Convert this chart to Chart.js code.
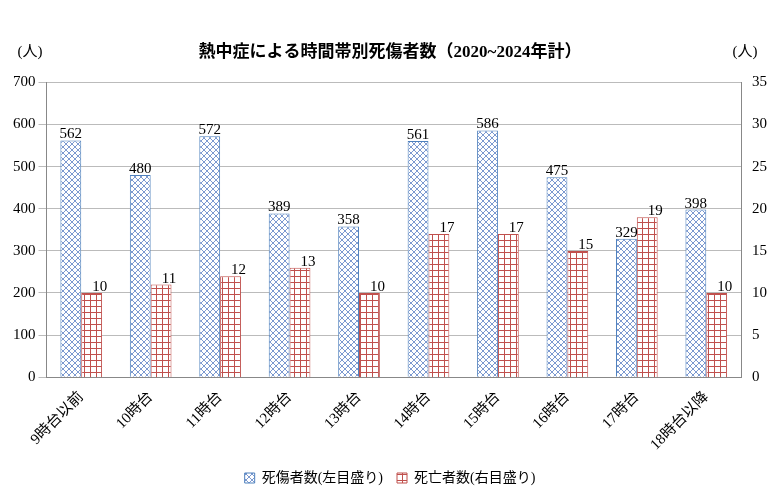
<!DOCTYPE html><html><head><meta charset="utf-8">
<script src="https://cdn.jsdelivr.net/npm/chart.js"></script>
<style>body{margin:0;background:#fff}</style></head><body>
<canvas id="c" width="780" height="495"></canvas>
<script>
const categories=["9時台以前","10時台","11時台","12時台","13時台","14時台","15時台","16時台","17時台","18時台以降"];
const casualties=[562,480,572,389,358,561,586,475,329,398];
const deaths=[10,11,12,13,10,17,17,15,19,10];
const F='"Liberation Serif","Noto Sans CJK JP",serif';
function pat(kind){const c=document.createElement('canvas');c.width=c.height=6;const x=c.getContext('2d');
 x.fillStyle='#fff';x.fillRect(0,0,6,6);
 if(kind==='d'){x.strokeStyle='#5b7fc4';x.lineWidth=0.8;x.beginPath();x.moveTo(0,0);x.lineTo(6,6);x.moveTo(6,0);x.lineTo(0,6);x.stroke();}
 else{x.strokeStyle='#c0504d';x.lineWidth=1;x.beginPath();x.moveTo(0,0.5);x.lineTo(6,0.5);x.moveTo(0.5,0);x.lineTo(0.5,6);x.stroke();}
 return x.createPattern(c,'repeat');}
const lbl={id:'lbl',afterDatasetsDraw(ch){const x=ch.ctx;x.save();x.font='15px '+F;x.fillStyle='#000';x.textAlign='center';
 ch.data.datasets.forEach((d,i)=>{ch.getDatasetMeta(i).data.forEach((b,j)=>{x.fillText(d.data[j],b.x+(i?8:0),b.y-6);});});
 x.fillText('(人)',30,52);x.fillText('(人)',745,52);x.restore();}};
new Chart(document.getElementById('c'),{type:'bar',data:{labels:categories,datasets:[
 {label:'死傷者数(左目盛り)',data:casualties,backgroundColor:pat('d'),borderColor:'#4f81bd',borderWidth:1,yAxisID:'y',categoryPercentage:0.6,barPercentage:1},
 {label:'死亡者数(右目盛り)',data:deaths,backgroundColor:pat('g'),borderColor:'#c0504d',borderWidth:1,yAxisID:'y1',categoryPercentage:0.6,barPercentage:1}]},
options:{responsive:false,animation:false,layout:{padding:{left:10,right:10,top:0,bottom:0}},
 plugins:{title:{display:true,text:'熱中症による時間帯別死傷者数（2020~2024年計）',font:{family:F,size:17,weight:'bold'},color:'#000',padding:{top:42,bottom:20}},
  legend:{position:'bottom',labels:{font:{family:F,size:14},color:'#000',boxWidth:10,boxHeight:10,padding:14}},tooltip:{enabled:false}},
 scales:{x:{grid:{display:false},border:{color:'#888'},ticks:{autoSkip:false,color:'#000',font:{family:F,size:15},maxRotation:45,minRotation:45}},
  y:{min:0,max:700,ticks:{stepSize:100,color:'#000',font:{family:F,size:15}},grid:{color:'#bbb'},border:{color:'#888'}},
  y1:{position:'right',min:0,max:35,ticks:{stepSize:5,color:'#000',font:{family:F,size:15}},grid:{display:false},border:{color:'#888'}}}},
plugins:[lbl]});
</script></body></html>
